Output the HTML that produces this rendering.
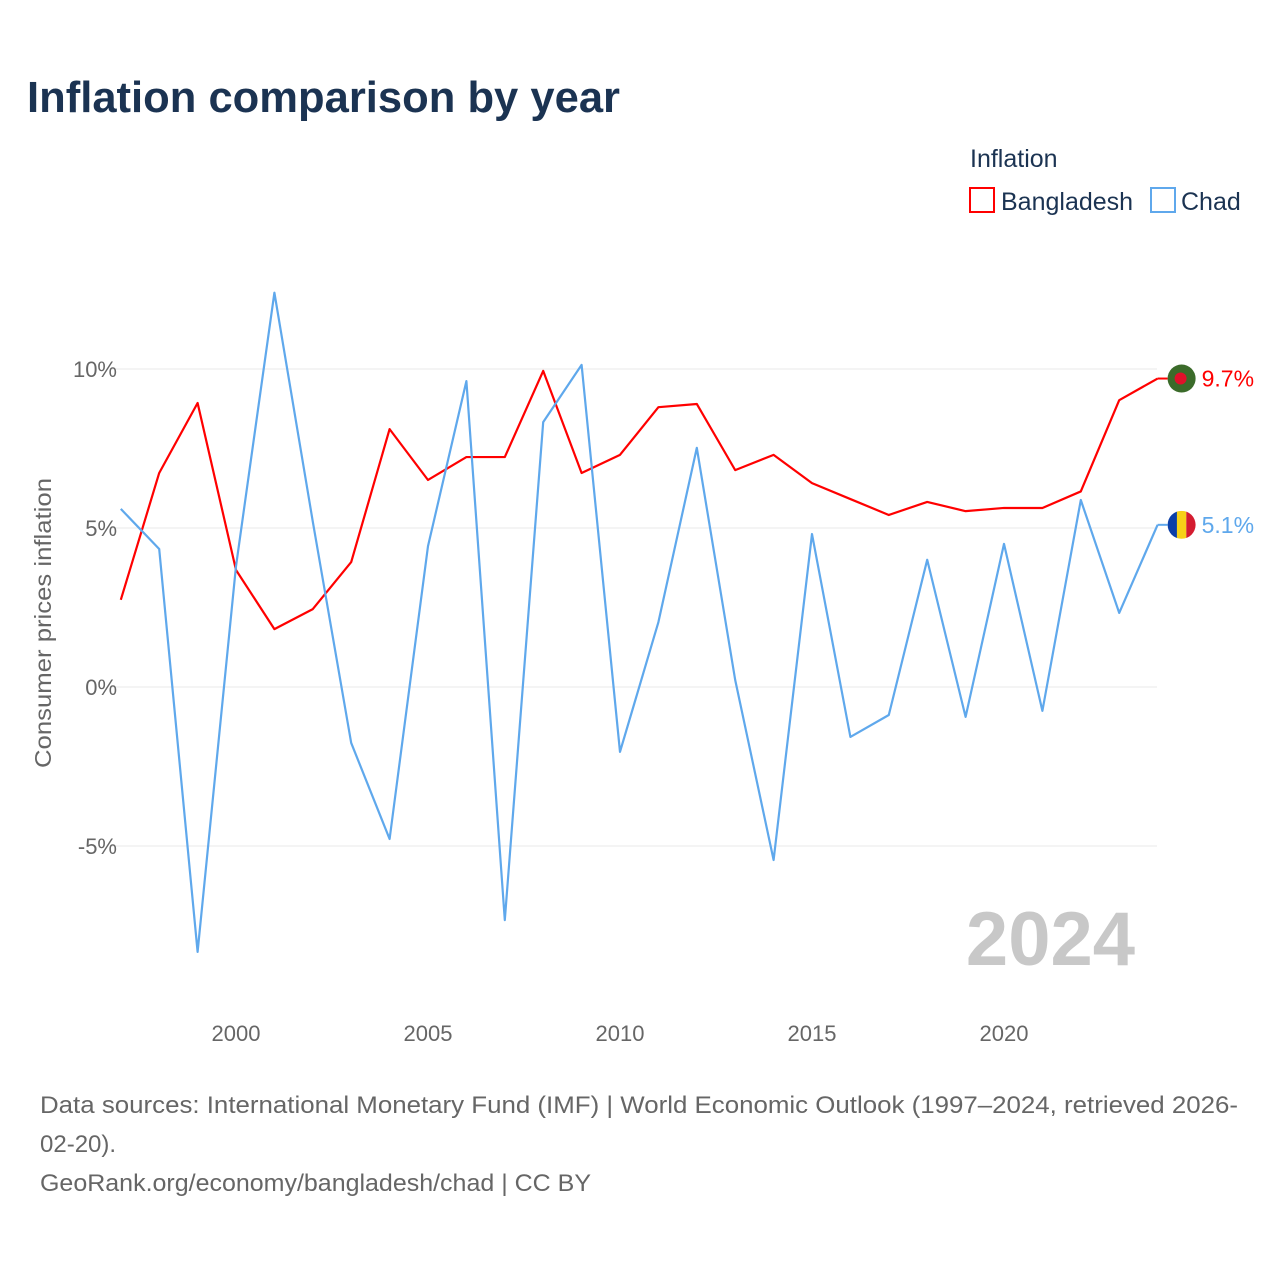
<!DOCTYPE html>
<html><head><meta charset="utf-8">
<style>
body{margin:0;background:#fff;font-family:"Liberation Sans",sans-serif;}
#wrap{position:relative;width:1280px;height:1280px;}
</style></head><body>
<div id="wrap">
<svg id="chart" width="1280" height="1280" xmlns="http://www.w3.org/2000/svg">
<text x="27" y="112" font-size="44" font-weight="bold" fill="#1b3352" textLength="593" lengthAdjust="spacingAndGlyphs">Inflation comparison by year</text>
<text x="970" y="167" font-size="25" fill="#1b3352">Inflation</text>
<g>
<rect x="970" y="188" width="24" height="24" fill="none" stroke="#ff0000" stroke-width="2"/>
<text x="1001" y="210" font-size="25" fill="#1b3352">Bangladesh</text></g>
<g>
<rect x="1151" y="188" width="24" height="24" fill="none" stroke="#5fa8ec" stroke-width="2"/>
<text x="1181" y="210" font-size="25" fill="#1b3352">Chad</text></g>
<g id="grid"></g><g id="xt"></g><g id="lines"></g>
<text x="51" y="623" font-size="23" fill="#666" transform="rotate(-90 51 623)" text-anchor="middle" textLength="290" lengthAdjust="spacingAndGlyphs">Consumer prices inflation</text>
<text x="1135" y="965" font-size="76" font-weight="bold" fill="#c8c8c8" text-anchor="end">2024</text>
<text x="40" y="1113" font-size="24" fill="#666" textLength="1198" lengthAdjust="spacingAndGlyphs">Data sources: International Monetary Fund (IMF) | World Economic Outlook (1997–2024, retrieved 2026-</text>
<text x="40" y="1152" font-size="24" fill="#666">02-20).</text>
<text x="40" y="1191" font-size="24" fill="#666" textLength="551" lengthAdjust="spacingAndGlyphs">GeoRank.org/economy/bangladesh/chad | CC BY</text>
</svg></div>
<script>
const years=[1997,1998,1999,2000,2001,2002,2003,2004,2005,2006,2007,2008,2009,2010,2011,2012,2013,2014,2015,2016,2017,2018,2019,2020,2021,2022,2023,2024];
const bangladesh=[2.74,6.73,8.93,3.68,1.82,2.45,3.93,8.11,6.51,7.23,7.23,9.94,6.73,7.30,8.80,8.90,6.82,7.30,6.41,5.91,5.41,5.82,5.53,5.63,5.63,6.15,9.02,9.7];
const chad=[5.6,4.34,-8.33,3.8,12.4,5.2,-1.76,-4.78,4.43,9.62,-7.33,8.33,10.13,-2.04,2.04,7.52,0.22,-5.44,4.81,-1.57,-0.88,4.0,-0.94,4.5,-0.75,5.88,2.33,5.1];
const yTicks=[10,5,0,-5];
const yTickLabels=["10%","5%","0%","-5%"];
const xTicks=[2000,2005,2010,2015,2020];
const NS="http://www.w3.org/2000/svg";
const xs=y=>120.8+(y-1997)*38.4;
const ys=v=>687-v*31.8;
function mk(t,a,p){const e=document.createElementNS(NS,t);for(const k in a)e.setAttribute(k,a[k]);p.appendChild(e);return e;}
const grid=document.getElementById('grid');
yTicks.forEach((v,i)=>{
 const l=mk('line',{x1:110,x2:1157,y1:ys(v),y2:ys(v),stroke:'#e8e8e8','stroke-width':1},grid);
 
 
 const t=mk('text',{x:117,y:ys(v)+8,'font-size':22,fill:'#666','text-anchor':'end'},grid);
 t.textContent=yTickLabels[i];
 
 
});
const xt=document.getElementById('xt');
xTicks.forEach(y=>{
 const t=mk('text',{x:xs(y),y:1041,'font-size':22,fill:'#666','text-anchor':'middle'},xt);
 t.textContent=y;
 
 
});
const lines=document.getElementById('lines');
function series(vals,col,name){
 const p=mk('polyline',{points:vals.map((v,i)=>xs(years[i])+','+ys(v)).join(' '),fill:'none',stroke:col,'stroke-width':2.2,'stroke-linejoin':'round'},lines);
 
 
 const last=vals[vals.length-1], x=xs(years[years.length-1]), y=ys(last);
 mk('line',{x1:x,x2:x+10,y1:y,y2:y,stroke:col,'stroke-width':2},lines);
 const t=mk('text',{x:x+44,y:y+8,'font-size':23,fill:col},lines);
 t.textContent=last.toFixed(1)+'%';
 
 
 return [x+24,y];
}
const [bx,by]=series(bangladesh,'#ff0000','bangladesh');
const [cx,cy]=series(chad,'#5fa8ec','chad');
const bf=mk('g',{},lines);


mk('circle',{cx:bx,cy:by,r:14,fill:'#3b6b2a'},bf);
mk('circle',{cx:bx-1,cy:by,r:6,fill:'#e0102a'},bf);
const cf=mk('g',{},lines);


mk('clipPath',{id:'cc'},cf);
mk('circle',{cx:cx,cy:cy,r:14},cf.lastChild);
const cg=mk('g',{'clip-path':'url(#cc)'},cf);
mk('rect',{x:cx-14,y:cy-14,width:10,height:28,fill:'#0b3fa8'},cg);
mk('rect',{x:cx-4.7,y:cy-14,width:9.4,height:28,fill:'#f7d117'},cg);
mk('rect',{x:cx+4.7,y:cy-14,width:10,height:28,fill:'#d41c30'},cg);
</script>
</body></html>
